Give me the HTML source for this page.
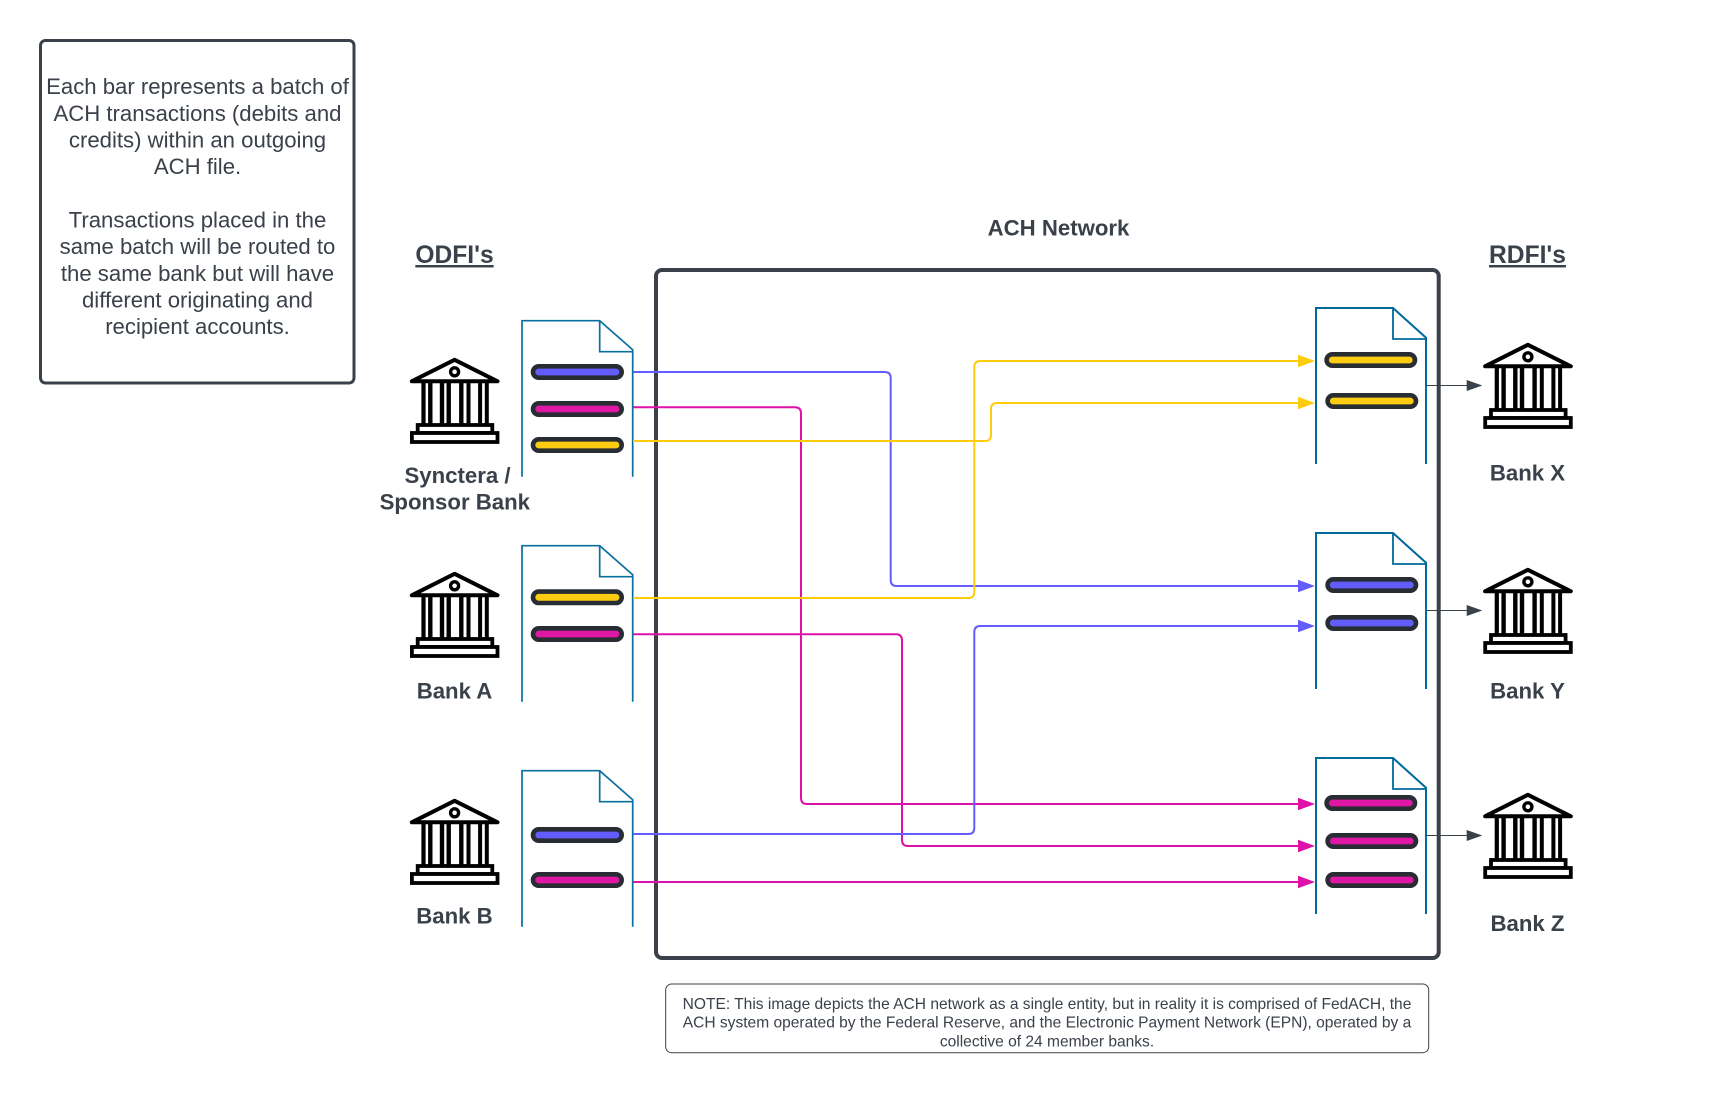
<!DOCTYPE html>
<html>
<head>
<meta charset="utf-8">
<style>
html,body{margin:0;padding:0;background:#fff;width:1713px;height:1093px;overflow:hidden}
svg{display:block}
text{font-family:"Liberation Sans",sans-serif;fill:#3a414a;text-anchor:middle}
.b{font-weight:bold;font-size:22.2px}
.h{font-weight:bold;font-size:24.6px;text-decoration:underline}
.t{font-size:22.15px}
.n{font-size:15.55px}
.c{fill:none;stroke-width:2}
.blue{stroke:#635dff}.mag{stroke:#de12a8}.yel{stroke:#ffcc0d}
</style>
</head>
<body>
<svg width="1713" height="1093" viewBox="0 0 1713 1093" xmlns="http://www.w3.org/2000/svg">
<defs>
<g id="bank">
  <path d="M1.8 23.3 L44.6 1.8 L87.5 23.3 Z" fill="#fff" stroke="#000" stroke-width="4" stroke-linejoin="round"/>
  <circle cx="44.6" cy="13.8" r="4" fill="#fff" stroke="#000" stroke-width="3.4"/>
  <g fill="#000">
    <rect x="11.4" y="25" width="4.2" height="42"/><rect x="18.1" y="25" width="4.4" height="42"/>
    <rect x="29.8" y="25" width="4.4" height="42"/><rect x="36.5" y="25" width="4.4" height="42"/>
    <rect x="49.1" y="25" width="4.4" height="42"/><rect x="56.5" y="25" width="4" height="42"/>
    <rect x="68.1" y="25" width="4" height="42"/><rect x="74.8" y="25" width="4" height="42"/>
  </g>
  <rect x="7.7" y="67" width="74.6" height="8" fill="#fff" stroke="#000" stroke-width="3.8"/>
  <rect x="1.9" y="75" width="85.6" height="9" fill="#fff" stroke="#000" stroke-width="3.8"/>
</g>
<g id="docL" fill="none" stroke="#0a6f9f">
  <path d="M0 156 V0 H77.7 L110.7 29 V156" stroke-width="1.7"/>
  <path d="M77.7 0 V31 H110.7" stroke-width="1.7"/>
</g>
<g id="docR" fill="none" stroke="#006a9b">
  <path d="M0 156 V0 H77 L110 29.7 V156" stroke-width="2"/>
  <path d="M77 0 V31 H110" stroke-width="1.8"/>
</g>
</defs>

<rect width="1713" height="1093" fill="#fff"/>

<!-- legend box -->
<rect x="40.5" y="40.5" width="313.5" height="342.5" rx="5" fill="#fff" stroke="#3a414a" stroke-width="3"/>
<text class="t" x="197.5" y="94.2">Each bar represents a batch of</text>
<text class="t" x="197.5" y="120.8">ACH transactions (debits and</text>
<text class="t" x="197.5" y="147.5">credits) within an outgoing</text>
<text class="t" x="197.5" y="174.2">ACH file.</text>
<text class="t" x="197.5" y="227.5">Transactions placed in the</text>
<text class="t" x="197.5" y="254.2">same batch will be routed to</text>
<text class="t" x="197.5" y="280.8">the same bank but will have</text>
<text class="t" x="197.5" y="307.5">different originating and</text>
<text class="t" x="197.5" y="334.2">recipient accounts.</text>

<!-- headings -->
<text class="h" x="454.5" y="263">ODFI's</text>
<text class="h" x="1527.5" y="263">RDFI's</text>
<text class="b" x="1058.5" y="235.5">ACH Network</text>

<!-- network box -->
<rect x="656" y="270" width="782.7" height="688" rx="6" fill="#fff" stroke="#3a414a" stroke-width="4"/>

<!-- documents -->
<use href="#docL" x="522" y="320.7"/>
<use href="#docL" x="522" y="545.7"/>
<use href="#docL" x="522" y="770.7"/>
<use href="#docR" x="1316" y="308"/>
<use href="#docR" x="1316" y="533"/>
<use href="#docR" x="1316" y="758"/>

<!-- connectors -->
<g class="c">
<path class="c blue" d="M633 372 H884.7 Q890.7 372 890.7 378 V580 Q890.7 586 896.7 586 H1300"/>
<path class="c mag" d="M633 407.3 H795 Q801 407.3 801 413.3 V798 Q801 804 807 804 H1300"/>
<path class="c yel" d="M633 441 H985 Q991 441 991 435 V409 Q991 403 997 403 H1300"/>
<path class="c yel" d="M633 598 H968.3 Q974.3 598 974.3 592 V367 Q974.3 361 980.3 361 H1300"/>
<path class="c mag" d="M633 634.3 H896 Q902 634.3 902 640.3 V840 Q902 846 908 846 H1300"/>
<path class="c blue" d="M633 834 H968.3 Q974.3 834 974.3 828 V632 Q974.3 626 980.3 626 H1300"/>
<path class="c mag" d="M633 882 H1300"/>
</g>
<g>
<path fill="#ffcc0d" d="M1315 361 L1298 354.8 V367.2 Z"/>
<path fill="#ffcc0d" d="M1315 403 L1298 396.8 V409.2 Z"/>
<path fill="#635dff" d="M1315 586 L1298 579.8 V592.2 Z"/>
<path fill="#635dff" d="M1315 626 L1298 619.8 V632.2 Z"/>
<path fill="#de12a8" d="M1315 804 L1298 797.8 V810.2 Z"/>
<path fill="#de12a8" d="M1315 846 L1298 839.8 V852.2 Z"/>
<path fill="#de12a8" d="M1315 882 L1298 875.8 V888.2 Z"/>
</g>

<!-- bars -->
<g stroke="#282c33" stroke-width="4.6">
<rect x="533" y="366.3" width="88.7" height="11.4" rx="5.7" fill="#635dff"/>
<rect x="533" y="403.3" width="88.7" height="11.4" rx="5.7" fill="#de17a5"/>
<rect x="533" y="439.3" width="88.7" height="11.4" rx="5.7" fill="#fccc12"/>
<rect x="533" y="591.6" width="88.7" height="11.4" rx="5.7" fill="#fccc12"/>
<rect x="533" y="628.3" width="88.7" height="11.4" rx="5.7" fill="#de17a5"/>
<rect x="533" y="829.3" width="88.7" height="11.4" rx="5.7" fill="#635dff"/>
<rect x="533" y="874.3" width="88.7" height="11.4" rx="5.7" fill="#de17a5"/>
<rect x="1326.6" y="354.3" width="88.4" height="11.4" rx="5.7" fill="#fccc12"/>
<rect x="1327.6" y="395.3" width="88.4" height="11.4" rx="5.7" fill="#fccc12"/>
<rect x="1327.6" y="579.3" width="88.4" height="11.4" rx="5.7" fill="#635dff"/>
<rect x="1327.6" y="617.3" width="88.4" height="11.4" rx="5.7" fill="#635dff"/>
<rect x="1326.6" y="797.3" width="88.4" height="11.4" rx="5.7" fill="#de17a5"/>
<rect x="1327.6" y="835.3" width="88.4" height="11.4" rx="5.7" fill="#de17a5"/>
<rect x="1327.6" y="874.3" width="88.4" height="11.4" rx="5.7" fill="#de17a5"/>
</g>

<!-- small arrows -->
<g stroke="#3a414a" stroke-width="1" fill="none">
<path d="M1427 385.5 H1468"/><path d="M1427 610.5 H1468"/><path d="M1427 835.5 H1468"/>
</g>
<g fill="#3a414a">
<path d="M1482.3 385.5 L1466.7 380 V391 Z"/>
<path d="M1482.3 610.5 L1466.7 605 V616 Z"/>
<path d="M1482.3 835.5 L1466.7 830 V841 Z"/>
</g>

<!-- bank icons -->
<use href="#bank" x="410" y="358"/>
<use href="#bank" x="410" y="572"/>
<use href="#bank" x="410" y="799"/>
<use href="#bank" x="1483.3" y="343"/>
<use href="#bank" x="1483.3" y="568"/>
<use href="#bank" x="1483.3" y="793"/>

<!-- bank labels -->
<text class="b" x="457.5" y="483.2">Synctera /</text>
<text class="b" x="454.8" y="509.3">Sponsor Bank</text>
<text class="b" x="454.5" y="698.5">Bank A</text>
<text class="b" x="454.5" y="923.5">Bank B</text>
<text class="b" x="1527.5" y="480.5">Bank X</text>
<text class="b" x="1527.5" y="698.7">Bank Y</text>
<text class="b" x="1527.5" y="931">Bank Z</text>

<!-- note -->
<rect x="665.7" y="984" width="763" height="68.7" rx="6" fill="#fff" stroke="#3a414a" stroke-width="1"/>
<text class="n" x="1047" y="1008.8">NOTE: This image depicts the ACH network as a single entity, but in reality it is comprised of FedACH, the</text>
<text class="n" x="1047" y="1027.6">ACH system operated by the Federal Reserve, and the Electronic Payment Network (EPN), operated by a</text>
<text class="n" x="1047" y="1046.4">collective of 24 member banks.</text>
</svg>
</body>
</html>
